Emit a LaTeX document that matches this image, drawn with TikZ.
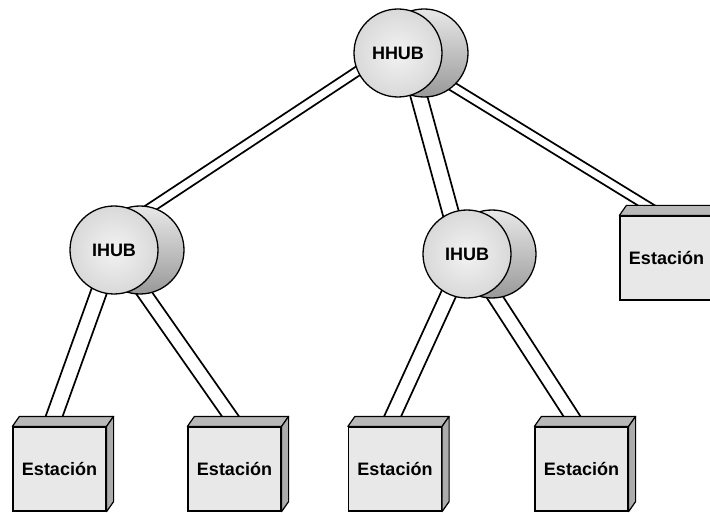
\documentclass[tikz,border=0pt]{standalone}
\usepackage{fontspec}
\setmainfont{Liberation Sans}
\usetikzlibrary{calc}
\pgfdeclarelayer{bg}
\pgfsetlayers{bg,main}
\tikzset{
 lbl/.style={font=\bfseries\fontsize{18}{20}\selectfont},
 hubfront/.style={circle, draw=black, line width=1.3pt, minimum size=88pt, inner sep=0pt, inner color=gray!10, outer color=gray!30, lbl},
 hubback/.style={circle, draw=black, line width=1.3pt, minimum size=88pt, inner sep=0pt, top color=gray!18, middle color=gray!26, bottom color=gray!80},
 stfront/.style={rectangle, draw=black, line width=1.2pt, minimum width=93pt, minimum height=84pt, inner sep=0pt, fill=gray!18, lbl},
 sttop/.style={draw=black, line width=1.2pt, fill=gray!55, line join=round},
 stside/.style={draw=black, line width=1.2pt, fill=gray!65, line join=round},
 wire/.style={draw=black, line width=1.7pt},
}
\newcommand\dlink[2]{\draw[wire] ([xshift=-8.5pt]#1) -- ([xshift=-8.5pt]#2) ([xshift=8.5pt]#1) -- ([xshift=8.5pt]#2);}
\newcommand\stfaces[1]{%
 \filldraw[sttop] (#1.north west) -- ++(7,-10) -- ($(#1.north east)+(7,-10)$) -- (#1.north east) -- cycle;
 \filldraw[stside] (#1.north east) -- ($(#1.north east)+(7,-10)$) -- ($(#1.south east)+(7,-10)$) -- (#1.south east) -- cycle;}
\begin{document}
\begin{tikzpicture}[x=1pt,y=-1pt]
\useasboundingbox (0,0) rectangle (710,513);
% hubs
\node[hubback] (hhubB) at (424,53) {};
\node[hubfront] (hhub) at (398,53) {HHUB};
\node[hubback] (ihubLB) at (140,250) {};
\node[hubfront] (ihubL) at (114,250) {IHUB};
\node[hubback] (ihubMB) at (492,254) {};
\node[hubfront] (ihubM) at (467,254) {IHUB};
% stations
\node[stfront] (s1) at (59.5,469) {Estación}; \stfaces{s1}
\node[stfront] (s2) at (234.5,469) {Estación}; \stfaces{s2}
\node[stfront] (s3) at (395,469) {Estación}; \stfaces{s3}
\node[stfront] (s4) at (581.5,469) {Estación}; \stfaces{s4}
\node[stfront] (s5) at (666.5,258) {Estación}; \stfaces{s5}
% connector end points
\coordinate (c1a) at ($(hhub.center)+(-13,0)$);
\coordinate (c1b) at ($(ihubL.center)+(3,-20)$);
\coordinate (c2a) at ($(hhub.center)+(9,0)$);
\coordinate (c2b) at ($(ihubM.center)+(-5,0)$);
\coordinate (c3b) at ($(s5.north)+(-12,-5)$);
\coordinate (l1b) at ($(s1.north)+(-9,0)$);
\coordinate (l2b) at ($(s2.north)+(3,0)$);
\coordinate (l3b) at ($(s3.north)+(-7,0)$);
\coordinate (l4b) at ($(s4.north)+(-3,0)$);
\begin{pgfonlayer}{bg}
\dlink{c1a}{c1b}
\dlink{c2a}{c2b}
\dlink{hhub.center}{c3b}
\dlink{ihubL.center}{l1b}
\dlink{ihubL.center}{l2b}
\dlink{ihubM.center}{l3b}
\dlink{ihubM.center}{l4b}
\end{pgfonlayer}
\end{tikzpicture}
\end{document}
